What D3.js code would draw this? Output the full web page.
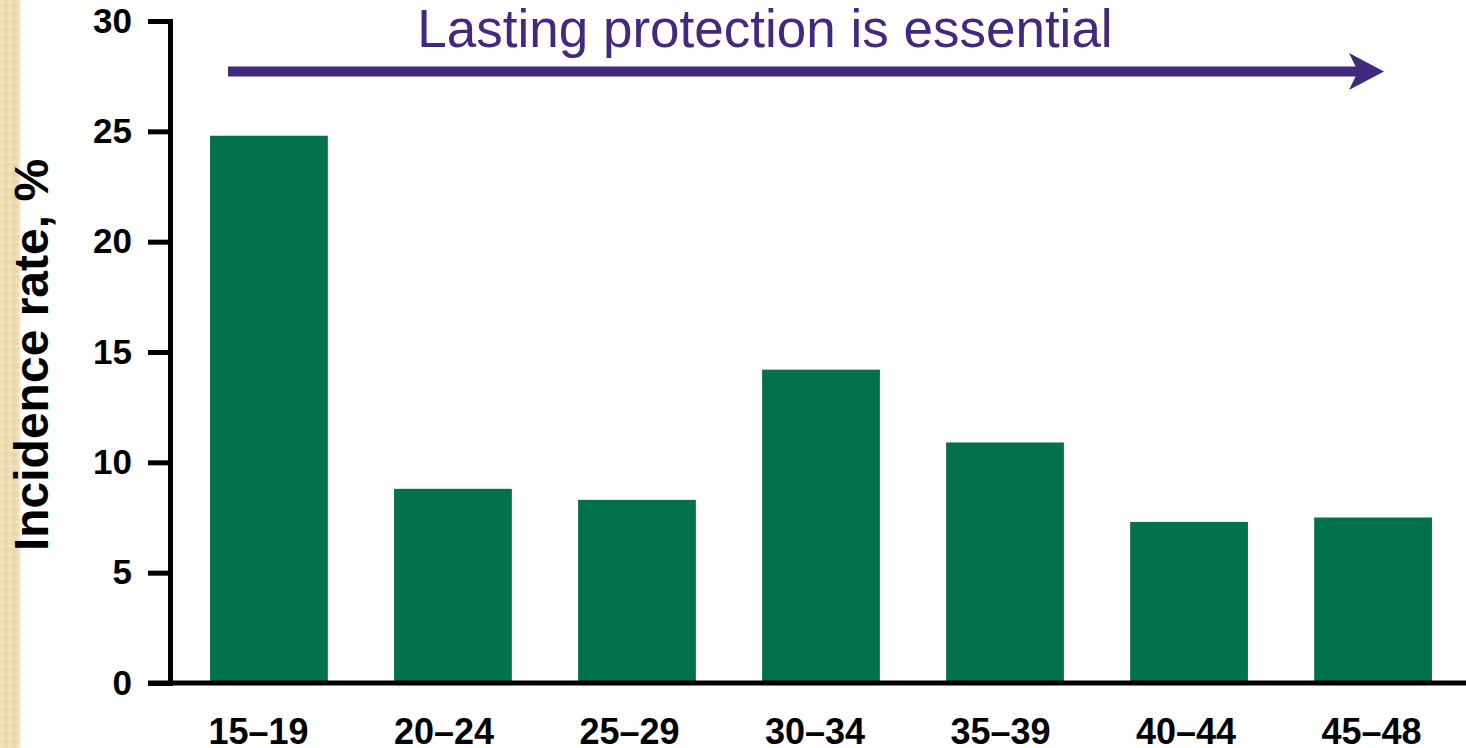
<!DOCTYPE html>
<html>
<head>
<meta charset="utf-8">
<script src="https://cdn.jsdelivr.net/npm/d3@7"></script>
<style>
  html, body { margin: 0; padding: 0; background: #ffffff; }
  svg { display: block; }
</style>
</head>
<body>
<svg id="chart" width="1466" height="748"></svg>
<script>
// Incidence rate by age group
const ageGroups = ["15–19", "20–24", "25–29", "30–34", "35–39", "40–44", "45–48"];
const incidence = [24.8, 8.8, 8.3, 14.2, 10.9, 7.3, 7.5];
const yTicks = [0, 5, 10, 15, 20, 25, 30];
const headline = "Lasting protection is essential";
const yTitle = "Incidence rate, %";

const W = 1466, H = 748;
const svg = d3.select("#chart");

// textured beige strip along the left edge
const defs = svg.append("defs");
const pat = defs.append("pattern")
  .attr("id", "weave").attr("patternUnits", "userSpaceOnUse")
  .attr("width", 8).attr("height", 8);
pat.append("rect").attr("width", 8).attr("height", 8).attr("fill", "#eddcb0");
pat.append("circle").attr("cx", 2).attr("cy", 2).attr("r", 1.6).attr("fill", "#f3e6c2");
pat.append("circle").attr("cx", 6).attr("cy", 6).attr("r", 1.6).attr("fill", "#e4d1a0");
const shade = defs.append("linearGradient").attr("id", "stripShade")
  .attr("x1", 0).attr("x2", 1).attr("y1", 0).attr("y2", 0);
shade.append("stop").attr("offset", "0%").attr("stop-color", "#000").attr("stop-opacity", 0.10);
shade.append("stop").attr("offset", "100%").attr("stop-color", "#000").attr("stop-opacity", 0);
svg.append("rect").attr("x", 0).attr("y", 0).attr("width", 19).attr("height", H).attr("fill", "url(#weave)");
svg.append("rect").attr("x", 19).attr("y", 0).attr("width", 3).attr("height", H).attr("fill", "url(#stripShade)");

const axisX = 170;
const y = d3.scaleLinear().domain([0, 30]).range([683, 21]);
const x = d3.scaleBand().domain(ageGroups).range([176, 1466])
  .paddingInner(0.36).paddingOuter(0.185);
// category labels sit on a slightly wider spacing than the bars
const xLabel = d3.scalePoint().domain(ageGroups).range([258, 1371]);

// bars
svg.append("g").selectAll("rect")
  .data(ageGroups.map((g, i) => ({ g, v: incidence[i] })))
  .join("rect")
  .attr("x", d => x(d.g))
  .attr("y", d => y(d.v))
  .attr("width", x.bandwidth())
  .attr("height", d => y(0) - y(d.v))
  .attr("fill", "#03714b");

// y axis
const yAxis = svg.append("g")
  .attr("transform", `translate(${axisX},0)`)
  .call(d3.axisLeft(y).tickValues(yTicks).tickSize(22).tickSizeOuter(0).tickPadding(16));
yAxis.select(".domain").attr("stroke", "#000").attr("stroke-width", 5).attr("stroke-linecap", "square");
yAxis.selectAll(".tick line").attr("stroke", "#000").attr("stroke-width", 5);
yAxis.selectAll(".tick text")
  .attr("fill", "#000")
  .style("font-family", "'Liberation Sans', Arial, sans-serif")
  .style("font-weight", "bold")
  .style("font-size", "35px");

// x axis baseline, running from the zero tick to the right edge
svg.append("line")
  .attr("x1", axisX - 22).attr("x2", W)
  .attr("y1", y(0)).attr("y2", y(0))
  .attr("stroke", "#000").attr("stroke-width", 5);

const xAxis = svg.append("g")
  .attr("transform", `translate(0,${y(0)})`)
  .call(d3.axisBottom(xLabel).tickSize(0).tickSizeOuter(0));
xAxis.select(".domain").remove();
xAxis.selectAll(".tick text")
  .attr("y", 61).attr("dy", 0)
  .attr("fill", "#000")
  .style("font-family", "'Liberation Sans', Arial, sans-serif")
  .style("font-weight", "bold")
  .style("font-size", "36px");

// y axis title
svg.append("text")
  .attr("transform", "rotate(-90)")
  .attr("x", -355).attr("y", 48)
  .attr("text-anchor", "middle")
  .style("font-family", "'Liberation Sans', Arial, sans-serif")
  .style("font-weight", "bold")
  .style("font-size", "48px")
  .attr("fill", "#000")
  .text(yTitle);

// headline and arrow across the age range
const purple = "#40297e";
svg.append("text")
  .attr("x", 765).attr("y", 47)
  .attr("text-anchor", "middle")
  .style("font-family", "'Liberation Sans', Arial, sans-serif")
  .style("font-size", "53px")
  .attr("fill", purple)
  .text(headline);

const ay = 71.5;
svg.append("line")
  .attr("x1", 228).attr("x2", 1358)
  .attr("y1", ay).attr("y2", ay)
  .attr("stroke", purple).attr("stroke-width", 10);
svg.append("path")
  .attr("d", d3.line()([[1384, ay], [1349, ay - 18.5], [1358, ay], [1349, ay + 18.5]]) + "Z")
  .attr("fill", purple);
</script>
</body>
</html>
